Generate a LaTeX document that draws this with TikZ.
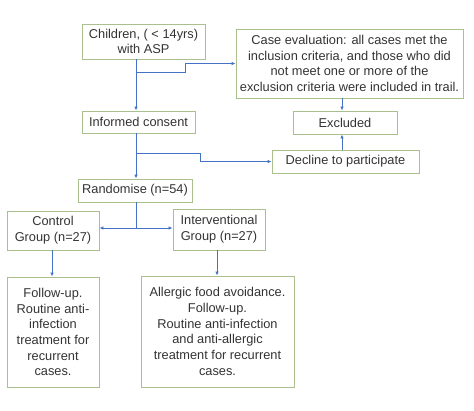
\documentclass[tikz,border=0pt]{standalone}
\usepackage{fontspec}
\setmainfont{Liberation Sans}
\usetikzlibrary{arrows.meta,calc}
\definecolor{boxgreen}{HTML}{A9C08E}
\definecolor{arrblue}{HTML}{4472C4}
\definecolor{txt}{HTML}{333333}
\begin{document}
\begin{tikzpicture}[x=1pt,y=-1pt,
  box/.style={draw=boxgreen,line width=0.9pt,rectangle,inner sep=0pt,align=center,
    text=txt,font=\fontsize{12.8}{15.7}\selectfont},
  arr/.style={draw=arrblue,line width=0.8pt,-{Latex[length=4pt,width=3.5pt]}},
  ln/.style={draw=arrblue,line width=0.8pt}]
\useasboundingbox (0,0) rectangle (474,410);
\node[box,minimum width=123pt,minimum height=35pt] (children) at (143.5,41.5) {Children, ( < 14yrs)\\with ASP};
\node[box,minimum width=227pt,minimum height=69pt] (case) at (349.5,63.5) {Case evaluation: all cases met the\\inclusion criteria, and those who did\\not meet one or more of the\\exclusion criteria were included in trail.};
\node[box,minimum width=113pt,minimum height=22pt] (consent) at (138.5,122) {Informed consent};
\node[box,minimum width=104pt,minimum height=23pt] (excluded) at (345,122.5) {Excluded};
\node[box,minimum width=147pt,minimum height=23pt] (decline) at (345.5,161.5) {Decline to participate};
\node[box,minimum width=114pt,minimum height=23pt] (random) at (135,190.5) {Randomise (n=54)};
\node[box,minimum width=92pt,minimum height=39pt] (control) at (53,230.5) {Control\\Group (n=27)};
\node[box,minimum width=92pt,minimum height=41pt] (interv) at (219,229.5) {Interventional\\Group (n=27)};
\node[box,minimum width=92pt,minimum height=110pt] (cres) at (53,332) {Follow-up.\\Routine anti-\\infection\\treatment for\\recurrent\\cases.};
\node[box,minimum width=153pt,minimum height=111pt] (ires) at (217.5,331.5) {Allergic food avoidance.\\Follow-up.\\ Routine anti-infection\\and anti-allergic\\treatment for recurrent\\cases.};
\coordinate (c1) at (136,72);
\coordinate (c2) at (136,153);
\coordinate (c3) at (136,228);
\draw[arr] (children.south -| c1) -- (consent.north -| c1);
\draw[arr] (c1) -- (185,72) |- (case.west);
\draw[arr] ([xshift=-3pt]excluded.north |- case.south) -- ([xshift=-3pt]excluded.north);
\draw[arr] ([xshift=-3.5pt]decline.north) -- ([xshift=-3.5pt]decline.north |- excluded.south);
\draw[arr] (consent.south -| c2) -- (random.north -| c2);
\draw[arr] (c2) -- (200,153) |- (decline.west);
\draw[ln] (random.south -| c3) -- (c3);
\draw[arr] (c3) -- (c3 -| control.east);
\draw[arr] (c3) -- (c3 -| interv.west);
\draw[arr] ([xshift=-1pt]control.south) -- ([xshift=-1pt]cres.north);
\draw[arr] ([xshift=-2pt]interv.south) -- ([xshift=-2pt]interv.south |- ires.north);
\end{tikzpicture}
\end{document}
